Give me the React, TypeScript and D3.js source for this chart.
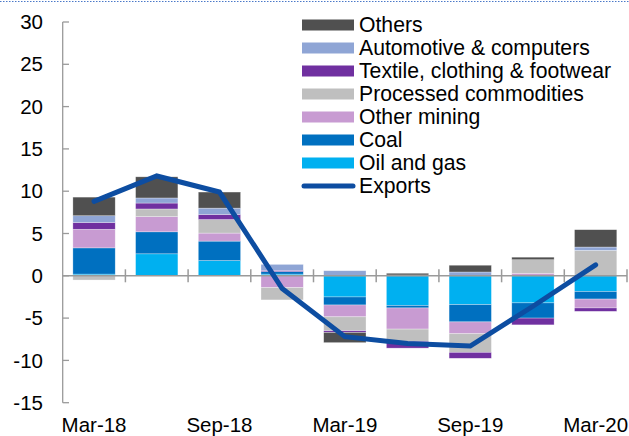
import React, { useEffect } from "react";
import * as d3 from "d3";

const categories = ["Mar-18", "Jun-18", "Sep-18", "Dec-18", "Mar-19", "Jun-19", "Sep-19", "Dec-19", "Mar-20"];
const xTickLabels = ["Mar-18", "Sep-18", "Mar-19", "Sep-19", "Mar-20"];
const yTicks = [-15, -10, -5, 0, 5, 10, 15, 20, 25, 30];

const oilGas = [0.2, 2.6, 1.8, 0.2, -2.5, -3.5, -3.4, -3.2, -1.85];
const coal = [3.1, 2.6, 2.3, 0.3, -0.95, -0.3, -2.05, -1.8, -0.9];
const otherMining = [2.2, 1.8, 0.95, -1.4, -1.4, -2.5, -1.4, 0.3, -1.05];
const processed = [-0.5, 0.9, 1.6, -1.45, -1.65, -1.45, -2.2, 1.6, 3.0];
const textile = [0.8, 0.7, 0.6, 0.15, -0.2, -0.8, -0.7, -0.8, -0.4];
const automotive = [0.8, 0.6, 0.75, 0.7, 0.6, 0.1, 0.45, 0, 0.4];
const others = [2.2, 2.5, 1.9, 0, -1.2, 0.2, 0.8, 0.3, 2.05];
const exportsLine = [8.8, 11.8, 9.9, -1.5, -7.2, -8.0, -8.3, -3.6, 1.3];

const seriesNames = ["Oil and gas", "Coal", "Other mining", "Processed commodities", "Textile, clothing & footwear", "Automotive & computers", "Others"];
const seriesValues = [oilGas, coal, otherMining, processed, textile, automotive, others];
const seriesColors = ["#00B0F0", "#0070C0", "#C89BD2", "#BFBFBF", "#7030A0", "#8FA5D5", "#505050"];
const lineColor = "#0D4DA1";

const W = 629;
const H = 436;
const FONT = "'Liberation Sans', Arial, sans-serif";

export default function App() {
  useEffect(() => {
    document.body.style.margin = "0";
  }, []);

  const x = d3.scaleBand<string>().domain(categories).range([62.7, 627]).paddingInner(0.325).paddingOuter(0.1625);
  const y = d3.scaleLinear().domain([-15, 30]).range([402.7, 22]);

  const rows = categories.map((c, i) => {
    const r: any = { cat: c };
    seriesNames.forEach((s, k) => (r[s] = seriesValues[k][i]));
    return r;
  });
  const stack = d3.stack<any>().keys(seriesNames).offset(d3.stackOffsetDiverging);
  const stacked = stack(rows);

  const line = d3
    .line<number>()
    .x((_, i) => (x(categories[i]) as number) + x.bandwidth() / 2)
    .y((d) => y(d));

  const step = x.step();
  const boundaries = d3.range(categories.length + 1).map((i) => 62.7 + i * step);
  const y0 = y(0);

  const legendItems = [...seriesNames].reverse().map((n) => ({ name: n, color: seriesColors[seriesNames.indexOf(n)] }));

  return (
    <svg width={W} height={H} style={{ display: "block", position: "absolute", left: 0, top: 0 }} fontFamily={FONT}>
      <rect x={0} y={0} width={W} height={H} fill="#fff" />
      <line x1={0} x2={W} y1={1.5} y2={1.5} stroke="#4A78C8" strokeWidth={1} strokeDasharray="1.5,1.5" />
      {/* bars */}
      {stacked.map((s, k) => (
        <g key={s.key} fill={seriesColors[k]}>
          {s.map((d, i) => {
            const top = y(Math.max(d[0], d[1]));
            const bot = y(Math.min(d[0], d[1]));
            if (bot - top <= 0) return null;
            return (
              <rect
                key={i}
                x={x(categories[i])}
                y={top}
                width={x.bandwidth()}
                height={bot - top}
                stroke="#ffffff"
                strokeOpacity={0.5}
                strokeWidth={0.6}
              />
            );
          })}
        </g>
      ))}
      {/* y axis */}
      <line x1={62.7} x2={62.7} y1={y(30)} y2={y(-15)} stroke="#9a9a9a" strokeWidth={1.3} />
      {yTicks.map((t) => (
        <g key={t}>
          <line x1={62.7} x2={69} y1={y(t)} y2={y(t)} stroke="#9a9a9a" strokeWidth={1.3} />
          <text x={43} y={y(t)} dy="0.35em" textAnchor="end" fontSize={20.5} fill="#000">
            {t}
          </text>
        </g>
      ))}
      {/* x axis */}
      <line x1={62.7} x2={627} y1={y0} y2={y0} stroke="#9a9a9a" strokeWidth={1.5} />
      {boundaries.slice(1).map((b, i) => (
        <line key={i} x1={b} x2={b} y1={y0 - 6.5} y2={y0 + 6.5} stroke="#9a9a9a" strokeWidth={1.5} />
      ))}
      {xTickLabels.map((l) => (
        <text key={l} x={(x(l) as number) + x.bandwidth() / 2} y={432} textAnchor="middle" fontSize={20.5} fill="#000">
          {l}
        </text>
      ))}
      {/* exports line */}
      <path d={line(exportsLine) || ""} fill="none" stroke={lineColor} strokeWidth={5} strokeLinecap="round" strokeLinejoin="miter" />
      {/* legend */}
      {legendItems.map((it, i) => (
        <g key={it.name} transform={`translate(0, ${25 + i * 23})`}>
          <rect x={302} y={-5.5} width={52} height={11} fill={it.color} />
          <text x={359} y={0} dy="0.35em" fontSize={21.2} fill="#000">
            {it.name}
          </text>
        </g>
      ))}
      <g transform={`translate(0, ${25 + 7 * 23})`}>
        <line x1={304} x2={353} y1={0} y2={0} stroke={lineColor} strokeWidth={5} strokeLinecap="round" />
        <text x={359} y={0} dy="0.35em" fontSize={21.2} fill="#000">
          Exports
        </text>
      </g>
    </svg>
  );
}
